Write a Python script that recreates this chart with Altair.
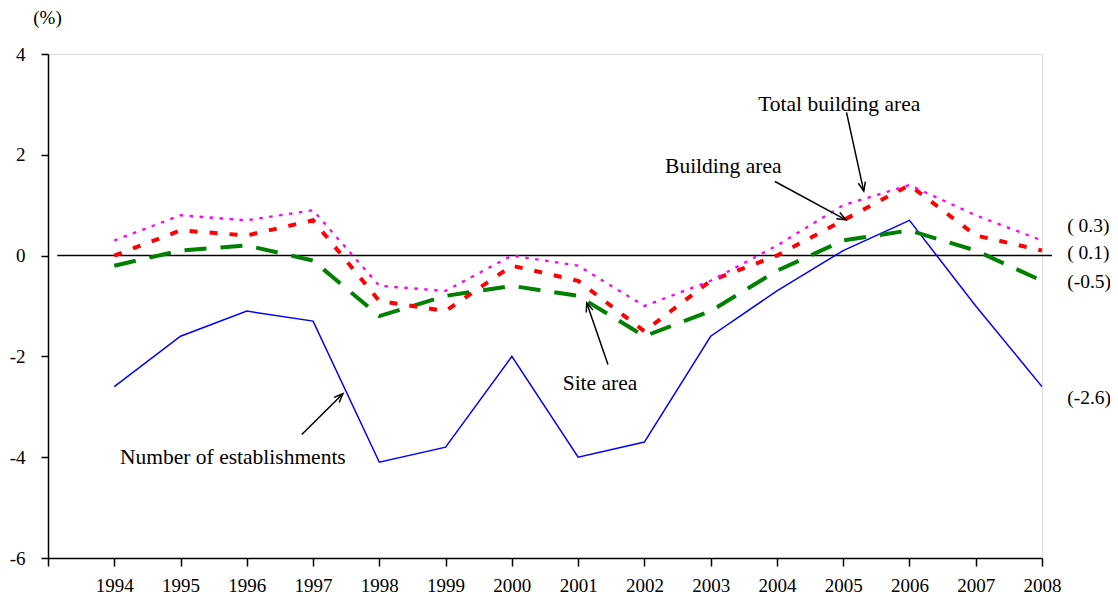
import math
import altair as alt
import pandas as pd

years = list(range(1994, 2009))
establishments = [-2.6, -1.6, -1.1, -1.3, -4.1, -3.8, -2.0, -4.0, -3.7, -1.6, -0.7, 0.1, 0.7, -1.0, -2.6]
site_area = [-0.2, 0.1, 0.2, -0.1, -1.2, -0.8, -0.6, -0.8, -1.6, -1.1, -0.3, 0.3, 0.5, 0.1, -0.5]
building_area = [0.0, 0.5, 0.4, 0.7, -0.9, -1.1, -0.2, -0.5, -1.5, -0.5, 0.0, 0.7, 1.4, 0.4, 0.1]
total_building_area = [0.3, 0.8, 0.7, 0.9, -0.6, -0.7, 0.0, -0.2, -1.0, -0.5, 0.2, 1.0, 1.4, 0.8, 0.3]

end_labels = ["(\u00a00.3)", "(\u00a00.1)", "(-0.5)", "(-2.6)"]
end_label_y = [0.58, 0.06, -0.52, -2.83]
end_label_x = 2008.38

ann_text = ["Total building area", "Building area", "Site area", "Number of establishments"]
ann_x = [2004.94, 2003.19, 2001.33, 1995.79]
ann_y = [2.98, 1.75, -2.54, -4.01]

arrow_x1 = [2005.05, 2003.97, 2001.45, 1996.83]
arrow_y1 = [2.84, 1.47, -2.16, -3.55]
arrow_x2 = [2005.31, 2005.04, 2001.13, 1997.45]
arrow_y2 = [1.28, 0.71, -0.94, -2.74]

W, H = 994, 504
XMIN, XMAX = 1993, 2008
YMIN, YMAX = -6, 4
px_x = W / (XMAX - XMIN)
px_y = H / (YMAX - YMIN)

FONT = "Liberation Serif"

xs = alt.Scale(domain=[XMIN, XMAX], nice=False, zero=False)
ys = alt.Scale(domain=[YMIN, YMAX], nice=False, zero=False)

df = pd.DataFrame({
    "year": years,
    "est": establishments,
    "site": site_area,
    "bld": building_area,
    "tot": total_building_area,
})

x_axis = alt.Axis(values=list(range(1993, 2009)), format="d",
                  labelExpr="datum.value == 1993 ? '' : datum.label",
                  grid=False, tickSize=8, labelPadding=10, labelFontSize=19,
                  labelFont=FONT, labelColor="black", domainColor="black",
                  tickColor="black", domainWidth=1.5, tickWidth=1.5, title=None,
                  labelFlush=False)
y_axis = alt.Axis(values=[-6, -4, -2, 0, 2, 4], grid=False, tickSize=7,
                  labelExpr="replace(datum.label, '\u2212', '-')",
                  labelPadding=16, labelFontSize=19, labelFont=FONT,
                  labelColor="black", domainColor="black", tickColor="black",
                  domainWidth=1.5, tickWidth=1.5, title="(%)", titleAngle=0,
                  titleFont=FONT, titleFontSize=19, titleFontWeight="normal",
                  titleAlign="center", titleBaseline="middle", titleX=-1,
                  titleY=-37, titleColor="black", labelFlush=False)

base = alt.Chart(df)

zero = alt.Chart(pd.DataFrame({"x": [1993.14], "x2": [2008.15], "y": [0]})).mark_rule(
    color="black", strokeWidth=1.5).encode(
    x=alt.X("x:Q", scale=xs, axis=x_axis), x2="x2:Q", y=alt.Y("y:Q", scale=ys, axis=y_axis))

def series(field, color, width, dash=None):
    kw = dict(color=color, strokeWidth=width, clip=False)
    if dash:
        kw["strokeDash"] = dash
    return base.mark_line(**kw).encode(
        x=alt.X("year:Q", scale=xs, axis=x_axis),
        y=alt.Y(f"{field}:Q", scale=ys, axis=y_axis))

l_est = series("est", "#0000FF", 1.5)
l_site = series("site", "#008000", 4, [22, 14])
l_bld = series("bld", "#FF0000", 4, [8, 12])
l_tot = series("tot", "#FF00FF", 2.3, [3.5, 6.5])

end_df = pd.DataFrame({"t": end_labels, "y": end_label_y, "x": [end_label_x] * 4})
ends = alt.Chart(end_df).mark_text(align="left", baseline="middle", font=FONT,
                                   fontSize=19.5, color="black").encode(
    x=alt.X("x:Q", scale=xs), y=alt.Y("y:Q", scale=ys), text="t:N")

ann_df = pd.DataFrame({"t": ann_text, "x": ann_x, "y": ann_y})
anns = alt.Chart(ann_df).mark_text(align="center", baseline="middle", font=FONT,
                                   fontSize=21.5, color="black").encode(
    x=alt.X("x:Q", scale=xs), y=alt.Y("y:Q", scale=ys), text="t:N")

angles = []
for a, b, c, d in zip(arrow_x1, arrow_y1, arrow_x2, arrow_y2):
    dx = (c - a) * px_x
    dy = -(d - b) * px_y
    angles.append(math.degrees(math.atan2(dx, -dy)) % 360)

arr_df = pd.DataFrame({"x1": arrow_x1, "y1": arrow_y1, "x2": arrow_x2,
                       "y2": arrow_y2, "ang": angles})
shafts = alt.Chart(arr_df).mark_rule(color="black", strokeWidth=1.5).encode(
    x=alt.X("x1:Q", scale=xs), y=alt.Y("y1:Q", scale=ys), x2="x2:Q", y2="y2:Q")
heads = alt.Chart(arr_df).mark_point(shape="M-0.9,2.2L0,0L0.9,2.2", filled=False,
                                     color="black", strokeWidth=1.5, size=64,
                                     opacity=1).encode(
    x=alt.X("x2:Q", scale=xs), y=alt.Y("y2:Q", scale=ys),
    angle=alt.Angle("ang:Q", scale=None))

chart = alt.layer(zero, l_est, l_site, l_bld, l_tot, shafts, heads, anns, ends).properties(
    width=W, height=H,
    autosize=alt.AutoSizeParams(type="none"),
    padding={"left": 40, "top": 46, "right": 68, "bottom": 34},
).configure_view(stroke=None).configure(background="white")

chart.save("out.html", embed_options={"renderer": "svg", "actions": False})
